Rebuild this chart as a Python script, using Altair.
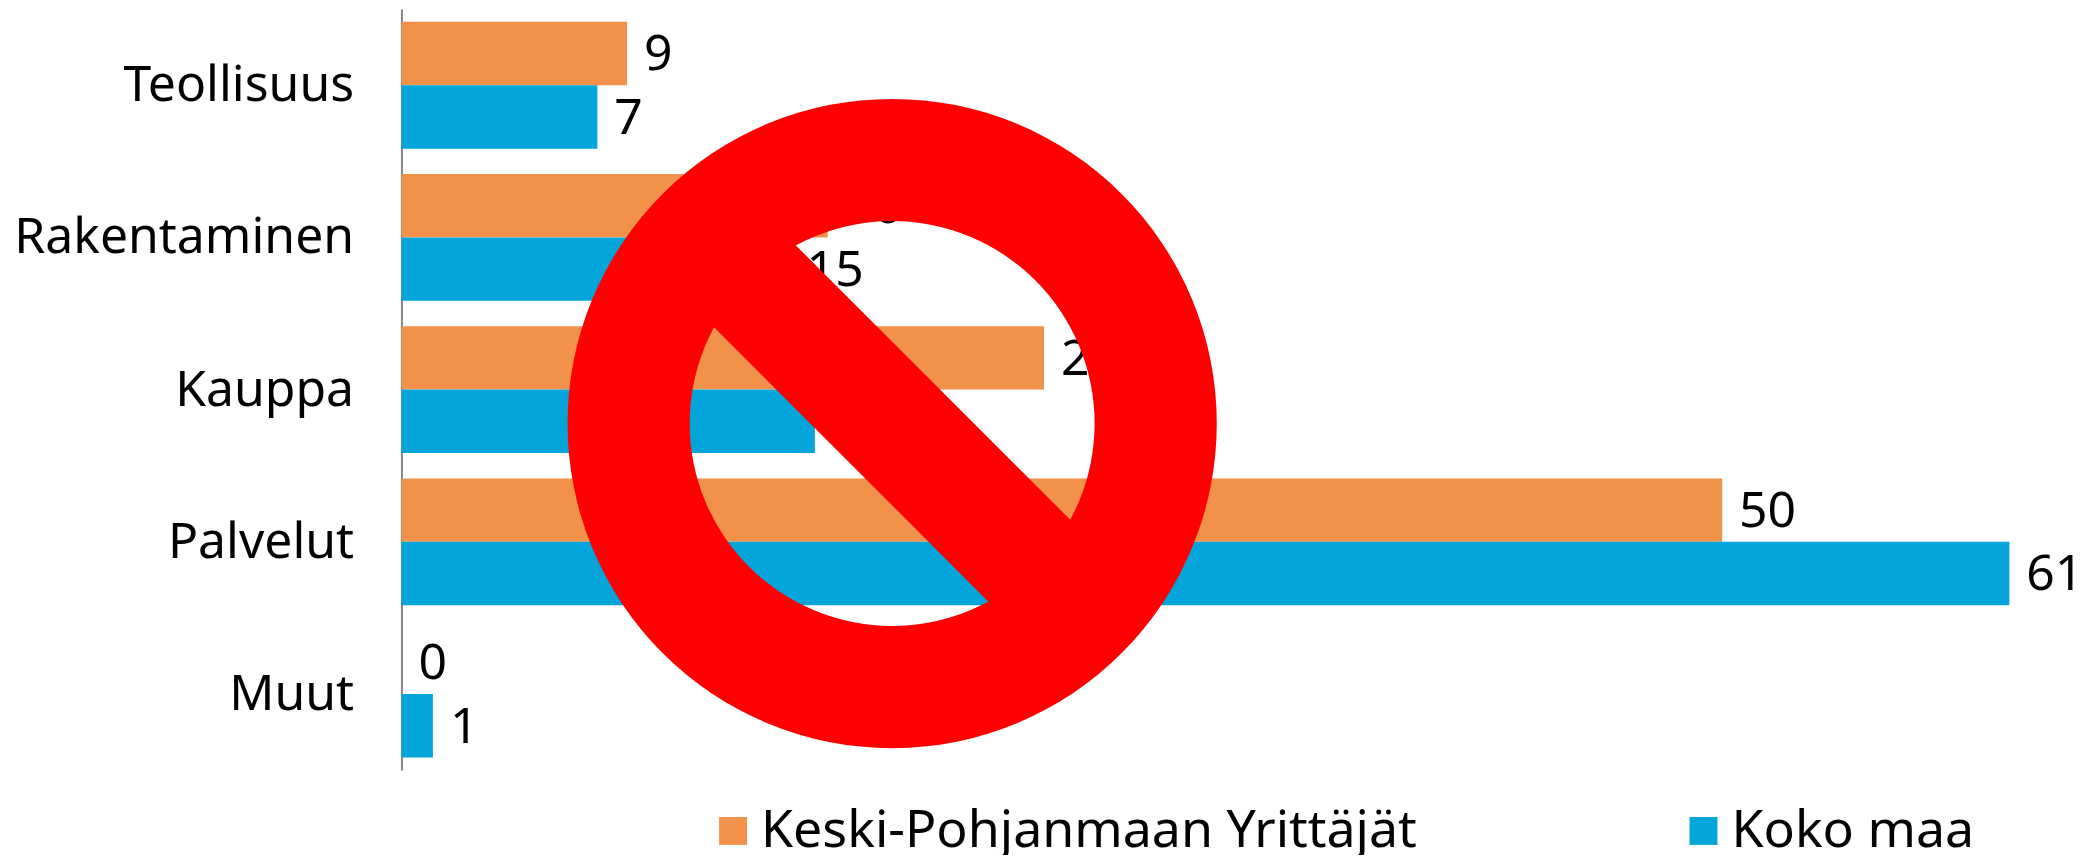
import altair as alt
import pandas as pd

categories = ["Teollisuus", "Rakentaminen", "Kauppa", "Palvelut", "Muut"]
series_names = ["Keski-Pohjanmaan Yrittäjät", "Koko maa"]
orange_values = [8.6, 16.25, 24.5, 50.35, 0]
blue_values = [7.47, 14.8, 15.76, 61.3, 1.2]
orange_labels = ["9", "16", "24", "50", "0"]
blue_labels = ["7", "15", "16", "61", "1"]
colors = ["#F29149", "#03A5DB"]

rows = []
for name, vals, labs in [(series_names[0], orange_values, orange_labels),
                         (series_names[1], blue_values, blue_labels)]:
    for c, v, l in zip(categories, vals, labs):
        rows.append({"category": c, "series": name, "value": v, "label": l})
df = pd.DataFrame(rows)

FONT = "Noto Sans"
PLOT_W = 1660
PLOT_H = 763
x_scale = alt.Scale(domain=[0, PLOT_W / 26.3], nice=False, zero=True)
y_enc = alt.Y("category:N", sort=categories,
              scale=alt.Scale(paddingInner=0.1667, paddingOuter=0.0833),
              axis=alt.Axis(title=None, ticks=False, labelPadding=48, labelFontSize=50,
                            labelFont=FONT, labelColor="#000000", labelLimit=500, labelOffset=1,
                            domainColor="#868686", domainWidth=2, grid=False))
y_off = alt.YOffset("series:N", sort=series_names, scale=alt.Scale(paddingInner=0, paddingOuter=0))

bars = alt.Chart(df).mark_bar(cornerRadius=0).encode(
    x=alt.X("value:Q", scale=x_scale, axis=None),
    y=y_enc,
    yOffset=y_off,
    color=alt.Color("series:N", sort=series_names,
                    scale=alt.Scale(domain=series_names, range=colors),
                    legend=alt.Legend(title=None, orient="none", legendX=306.5, legendY=798,
                                      columns=2, columnPadding=261, symbolType="square",
                                      symbolSize=784, symbolStrokeWidth=0, labelFontSize=52,
                                      labelFont=FONT, labelColor="#000000", labelLimit=1000,
                                      labelOffset=2, rowPadding=0)),
)

labels = alt.Chart(df).mark_text(align="left", baseline="middle", dx=17, dy=2, fontSize=50,
                                 font=FONT, color="#000000").encode(
    x=alt.X("value:Q", scale=x_scale, axis=None),
    y=y_enc,
    yOffset=y_off,
    text="label:N",
)

sign_row = alt.Data(values=[{"sign": 1}])
ring = alt.Chart(sign_row).mark_arc(color="#FF0000", radius=325.5, radius2=203,
                                    theta=0, theta2=6.2832).encode(
    x=alt.value(492), y=alt.value(415.5))
slash = alt.Chart(sign_row).mark_rule(color="#FF0000", strokeWidth=116).encode(
    x=alt.value(305.3), x2=alt.value(678.7), y=alt.value(228.8), y2=alt.value(602.2))

chart = alt.layer(bars, labels, ring, slash).resolve_scale(y="shared").properties(
    width=PLOT_W,
    height=PLOT_H,
    autosize=alt.AutoSizeParams(type="none"),
    padding={"left": 394.5, "top": 0, "right": 20, "bottom": 84},
    background="#FFFFFF",
).configure_view(stroke=None)

chart.save("out.html", embed_options={"renderer": "svg", "actions": False})
